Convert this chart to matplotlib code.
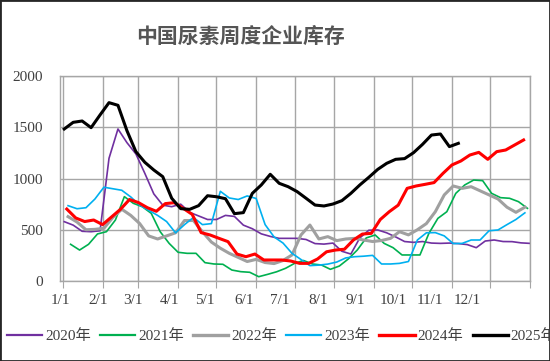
import numpy as np
import matplotlib
matplotlib.use('Agg')
import matplotlib.pyplot as plt
from matplotlib.lines import Line2D
from matplotlib.patches import Rectangle

# weekly inventory (10k t), first point's day of year per series
years = ['2020年', '2021年', '2022年', '2023年', '2024年', '2025年']
start_day = [1, 6, 4, 4, 3, 1]

v2020 = [579, 545, 485, 481, 490, 1197, 1483, 1350, 1240, 1050, 850, 740, 725, 750,
         670, 635, 600, 600, 640, 630, 545, 510, 460, 435, 416, 416, 416, 405, 365,
         360, 370, 290, 263, 420, 495, 498, 470, 430, 385, 377, 385, 370, 367, 370,
         365, 355, 325, 390, 400, 385, 384, 372, 367]
v2021 = [358, 302, 358, 459, 481, 595, 823, 758, 725, 660, 481, 367, 280, 270, 270,
         179, 166, 163, 107, 91, 85, 42, 65, 90, 124, 172, 200, 166, 156, 114, 146,
         215, 302, 420, 449, 367, 325, 254, 254, 254, 465, 611, 676, 855, 937, 985,
         979, 855, 813, 807, 774, 709]
v2022 = [628, 575, 500, 504, 514, 620, 700, 640, 560, 440, 410, 440, 470, 590, 590,
         480, 380, 320, 270, 230, 190, 211, 180, 170, 200, 254, 449, 546, 410, 433,
         394, 410, 416, 400, 385, 395, 416, 481, 450, 500, 560, 676, 840, 927, 904,
         920, 880, 840, 800, 720, 670, 720]
v2023 = [735, 705, 715, 800, 915, 900, 885, 820, 740, 690, 640, 580, 470, 550, 620,
         550, 560, 875, 810, 795, 830, 805, 550, 430, 370, 270, 210, 150, 155, 165,
         185, 225, 237, 242, 250, 166, 166, 172, 190, 400, 470, 472, 440, 365, 367,
         400, 400, 490, 498, 550, 600, 665]
v2024 = [702, 615, 580, 595, 550, 625, 700, 795, 765, 715, 680, 755, 764, 709, 650,
         472, 449, 416, 384, 263, 237, 263, 205, 205, 205, 195, 172, 172, 215, 285,
         302, 310, 400, 458, 465, 600, 676, 740, 904, 927, 943, 960, 1050, 1132, 1171,
         1229, 1255, 1187, 1262, 1278, 1327, 1376]
v2025 = [1483, 1548, 1561, 1496, 1620, 1740, 1714, 1467, 1262, 1158, 1083, 1018, 807,
         706, 699, 735, 832, 822, 803, 657, 667, 855, 937, 1041, 953, 920, 872, 807,
         741, 732, 751, 784, 855, 937, 1011, 1089, 1148, 1187, 1194, 1252, 1333, 1424,
         1434, 1311, 1343]
series = [v2020, v2021, v2022, v2023, v2024, v2025]

month_start = [0, 31, 59, 90, 120, 151, 181, 212, 243, 273, 304, 334, 365]
month_lbl = ['1/1', '2/1', '3/1', '4/1', '5/1', '6/1', '7/1', '8/1', '9/1', '10/1', '11/1', '12/1']
# excel spaces the category labels a bit differently from the gridlines
lbl_pos = [-2.3, 27.2, 54.4, 83.1, 111.0, 141.3, 169.3, 199.6, 228.3, 257.8, 286.6, 316.1]

colors = ['#7030A0', '#00B050', '#A0A0A0', '#00B0F0', '#FF0000', '#000000']
widths = [1.2, 1.2, 2.2, 1.2, 2.2, 2.2]

serif = ['Liberation Serif', 'Noto Sans CJK SC']

fig = plt.figure(figsize=(5.5, 3.61), dpi=100)
ax = fig.add_axes([60/550, 1-281/361, 470/550, 205/361])

for i in range(len(series)):
    y = np.array(series[i])
    x = start_day[i] + 7*np.arange(len(y))
    ax.plot(x, y, color=colors[i], lw=widths[i], solid_joinstyle='round')

ax.set_xlim(0, 365)
ax.set_ylim(0, 2000)
ax.set_yticks([0, 500, 1000, 1500, 2000])
ax.set_xticks(month_start)
ax.set_xticklabels([])
ax.set_xticks(lbl_pos, minor=True)
ax.set_xticklabels(month_lbl, minor=True)
ax.grid(True, color='#A6A6A6', lw=1.0)
ax.set_axisbelow(True)
for s in ax.spines.values():
    s.set_color('#A6A6A6')
    s.set_linewidth(1.0)
ax.tick_params(axis='x', which='major', direction='out', length=5, color='#A6A6A6')
ax.tick_params(axis='x', which='minor', length=0, pad=9)
ax.tick_params(axis='y', length=0, pad=12)
for t in ax.get_xticklabels(minor=True) + ax.get_yticklabels():
    t.set_family(serif)
    t.set_fontsize(11)
    t.set_color('#404040')

fig.text(241/550, 1-36/361, '中国尿素周度企业库存', family=['Noto Sans CJK SC'],
         fontsize=15, fontweight='bold', color='#555555', ha='center', va='center')

handles = [Line2D([], [], color=colors[i], lw=1.6 if widths[i] < 2 else 2.4) for i in range(6)]
leg = fig.legend(handles, years, loc='center left', bbox_to_anchor=(7/550, 1-336/361),
                 ncol=6, frameon=False, handlelength=2.3, handletextpad=0.2,
                 columnspacing=0.6, borderpad=0, borderaxespad=0,
                 prop={'family': serif, 'size': 11})
for t in leg.get_texts():
    t.set_color('#404040')

fig.patches.append(Rectangle((0, 0), 1, 1, transform=fig.transFigure, fill=False,
                             edgecolor='#262626', lw=2))

fig.savefig('out.png', dpi=100)
